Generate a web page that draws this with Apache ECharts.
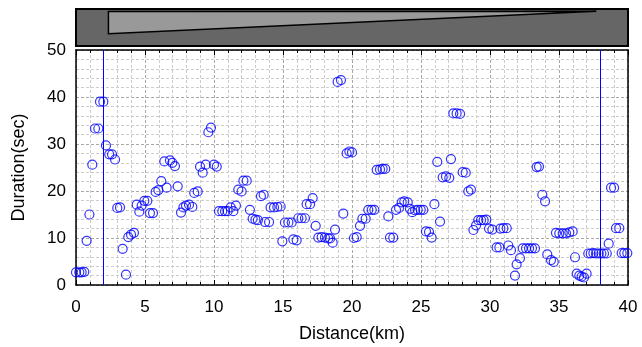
<!DOCTYPE html>
<html>
<head>
<meta charset="utf-8">
<script src="https://cdn.jsdelivr.net/npm/echarts@6/dist/echarts.min.js"></script>
<style>
html,body{margin:0;padding:0;background:#fff;}
#chart{width:642px;height:347px;}
</style>
</head>
<body>
<div id="chart"></div>
<script>
// Distance (km) of each measurement
const distanceKm = [
  0.0,0.24,0.41,0.6,0.77,0.97,1.18,1.38,1.62,1.74,1.98,2.17,2.41,2.61,2.83,2.99,3.19,3.38,3.62,
  3.79,3.99,4.2,4.4,4.59,4.76,4.95,5.17,5.36,5.58,5.77,5.97,6.18,6.4,6.57,6.81,6.98,7.17,7.37,
  7.61,7.78,7.97,8.19,8.43,8.57,8.82,8.99,9.18,9.4,9.59,9.78,10.0,10.2,
  10.36,10.6,10.8,10.99,11.21,11.4,11.59,11.76,12.0,12.13,12.37,12.6,12.8,13.0,13.18,13.4,13.6,
  13.7,13.99,14.1,14.35,14.59,14.83,14.95,15.14,15.39,15.63,15.75,15.99,16.11,16.35,16.59,
  16.71,16.96,17.15,17.37,17.56,17.8,18.04,18.28,18.41,18.6,18.77,18.96,19.2,19.37,
  19.61,19.81,20.0,20.14,20.34,20.58,20.75,20.99,21.18,21.43,21.62,21.79,22.03,22.22,22.41,
  22.63,22.75,22.99,23.19,23.41,23.6,23.79,24.04,24.2,24.37,24.57,24.76,24.98,25.17,
  25.36,25.58,25.77,25.97,26.18,26.38,26.57,26.81,27.05,27.17,27.34,27.58,27.83,28.02,28.24,
  28.43,28.62,28.8,28.99,29.15,29.35,29.54,29.73,29.93,30.17,30.48,30.68,30.75,30.97,31.21,
  31.33,31.52,31.81,31.93,32.17,32.37,32.61,32.83,33.04,33.26,33.38,33.55,33.79,33.99,
  34.15,34.42,34.62,34.78,35.02,35.27,35.51,35.75,35.99,36.16,36.28,36.47,36.64,36.81,37.0,
  37.12,37.3,37.49,37.68,37.88,38.07,38.26,38.46,38.6,38.77,38.99,39.13,39.37,39.54,39.73,39.95
];
// Duration (sec) of each measurement
const durationSec = [
  2.7,2.7,2.7,2.8,9.4,15.0,25.6,33.3,33.3,39.0,39.0,29.7,27.8,27.8,26.7,16.4,16.5,7.7,2.2,
  10.2,10.7,11.1,17.1,15.6,16.9,17.9,17.9,15.3,15.3,19.8,20.2,22.1,26.3,20.7,26.5,26.0,25.3,21.0,
  15.4,16.5,16.9,17.1,16.6,19.6,19.9,25.2,23.9,25.6,32.5,33.5,25.6,25.2,
  15.7,15.7,15.7,15.7,16.5,15.7,16.9,20.3,19.9,22.2,22.2,16.0,14.1,13.9,13.8,18.9,19.2,
  13.4,13.4,16.5,16.5,16.6,16.7,9.3,13.3,13.3,13.3,9.7,9.5,14.2,14.2,14.2,
  17.2,17.2,18.5,12.6,10.1,10.2,10.1,9.9,9.9,9.0,11.8,43.2,43.6,15.2,
  28.0,28.4,28.2,10.0,10.2,12.6,14.1,14.1,16.0,16.0,16.0,24.5,24.6,24.7,24.7,
  14.6,10.1,10.1,16.0,16.4,17.6,17.8,17.6,16.2,15.5,15.9,16.0,16.0,16.0,
  11.4,11.3,10.1,17.2,26.2,13.5,22.9,23.1,22.8,26.8,36.5,36.5,36.4,24.0,23.9,
  19.9,20.3,11.7,12.7,13.8,13.8,13.8,13.9,12.0,11.8,8.0,8.0,12.0,12.1,12.1,
  8.4,7.4,2.0,4.4,5.7,7.8,7.8,7.8,7.8,7.8,25.1,25.2,19.2,17.8,
  6.5,5.3,4.9,11.1,11.0,11.0,11.0,11.2,11.4,5.9,2.4,2.0,1.8,1.6,2.4,
  6.7,6.7,6.8,6.7,6.7,6.7,6.7,6.7,8.8,20.7,20.7,12.1,12.1,6.8,6.8,6.8
];
// Vertical marker positions (km)
const markerKm = [2, 38];
// Top strip profile polygon (km, relative level)
const profileKm = [2.35, 37.7, 2.35];
const profileLevel = [0.93, 0.94, 0.33];
// Axis tick values
const xTicks = [0, 5, 10, 15, 20, 25, 30, 35, 40];
const yTicks = [0, 10, 20, 30, 40, 50];

const points = distanceKm.map((d, i) => [d, durationSec[i]]);
const FONT = 'Liberation Sans, Arial, sans-serif';

const chart = echarts.init(document.getElementById('chart'), null, {renderer: 'canvas'});
const gridLeft = 76, gridWidth = 552;

chart.setOption({
  animation: false,
  backgroundColor: '#ffffff',
  textStyle: {fontFamily: FONT},
  grid: [
    {left: gridLeft, top: 50, width: gridWidth, height: 235, outerBoundsMode: 'none', containLabel: false},
    {left: gridLeft, top: 9, width: gridWidth, height: 37, show: true, outerBoundsMode: 'none', containLabel: false,
     backgroundColor: '#666666', borderColor: '#000000', borderWidth: 2}
  ],
  xAxis: [
    {gridIndex: 0, type: 'value', min: xTicks[0], max: xTicks[xTicks.length - 1], interval: 5,
     name: 'Distance(km)', nameLocation: 'middle', nameGap: 40,
     nameTextStyle: {fontSize: 18, color: '#000', fontFamily: FONT},
     axisLine: {show: true, onZero: false, lineStyle: {color: '#000', width: 1.5}},
     axisTick: {show: true, inside: true, length: 5, lineStyle: {color: '#000'}},
     minorTick: {show: true, splitNumber: 5, length: 3, lineStyle: {color: '#000'}},
     axisLabel: {fontSize: 17, color: '#000', margin: 14, fontFamily: FONT},
     splitLine: {show: true, lineStyle: {color: '#a8a8a8', type: [3, 2], width: 1}},
     minorSplitLine: {show: true, lineStyle: {color: '#cccccc', type: [3, 2], width: 1}}
    },
    {gridIndex: 0, type: 'value', position: 'top', min: 0, max: 40, interval: 5,
     axisLine: {show: true, onZero: false, lineStyle: {color: '#000', width: 1.5}},
     axisTick: {show: true, inside: true, length: 5, lineStyle: {color: '#000'}},
     minorTick: {show: true, splitNumber: 5, length: 3, lineStyle: {color: '#000'}},
     axisLabel: {show: false}, splitLine: {show: false}
    },
    {gridIndex: 1, type: 'value', min: 0, max: 40, show: false}
  ],
  yAxis: [
    {gridIndex: 0, type: 'value', min: yTicks[0], max: yTicks[yTicks.length - 1], interval: 10,
     name: 'Duration(sec)', nameLocation: 'middle', nameGap: 48, nameRotate: 90,
     nameTextStyle: {fontSize: 18, color: '#000', fontFamily: FONT},
     axisLine: {show: true, onZero: false, lineStyle: {color: '#000', width: 1.5}},
     axisTick: {show: false},
     axisLabel: {fontSize: 17, color: '#000', margin: 10, padding: [0, 0, 10, 0], fontFamily: FONT},
     minorTick: {show: false, splitNumber: 5},
     splitLine: {show: true, lineStyle: {color: '#a8a8a8', type: [3, 2], width: 1}},
     minorSplitLine: {show: true, lineStyle: {color: '#cccccc', type: [3, 2], width: 1}}
    },
    {gridIndex: 0, type: 'value', position: 'right', min: 0, max: 50, interval: 10,
     axisLine: {show: true, onZero: false, lineStyle: {color: '#000', width: 1.5}},
     axisTick: {show: false}, axisLabel: {show: false}, splitLine: {show: false}
    },
    {gridIndex: 1, type: 'value', min: 0, max: 1, show: false}
  ],
  series: [
    {
      type: 'scatter', xAxisIndex: 0, yAxisIndex: 0,
      data: points, symbol: 'circle', symbolSize: 9, clip: false,
      itemStyle: {color: 'rgba(0,0,0,0)', borderColor: '#0000ff', borderWidth: 1.2},
      markLine: {
        silent: true, symbol: ['none', 'none'], animation: false,
        label: {show: false},
        lineStyle: {color: '#0000ff', width: 1, type: 'solid'},
        emphasis: {disabled: true},
        data: markerKm.map(k => ({xAxis: k}))
      },
      z: 5
    },
    {
      type: 'custom', xAxisIndex: 2, yAxisIndex: 2,
      data: [[0, 0]],
      renderItem: function (params, api) {
        const pts = profileKm.map((k, i) => api.coord([k, profileLevel[i]]));
        return {type: 'polygon', shape: {points: pts},
                style: {fill: '#999999', stroke: '#000000', lineWidth: 1.5}};
      }
    }
  ]
});
</script>
</body>
</html>
